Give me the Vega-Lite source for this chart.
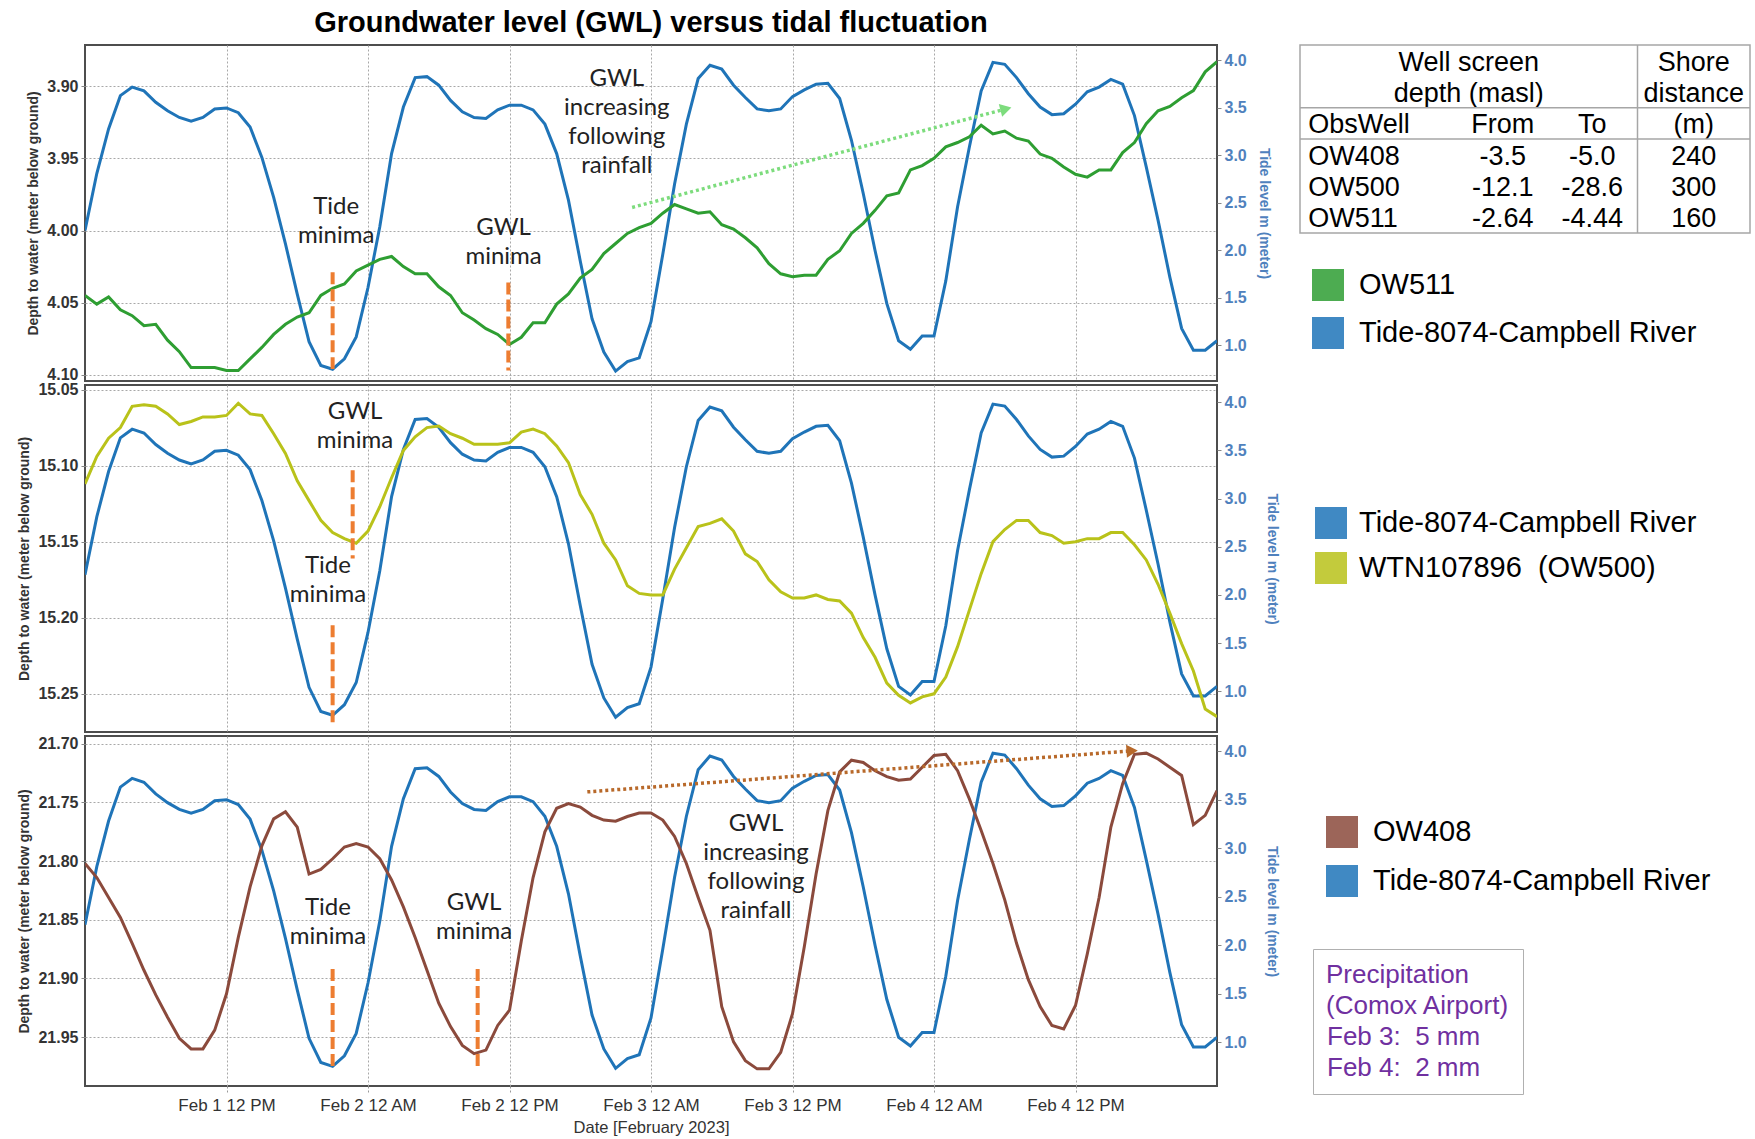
{
  "$schema": "https://vega.github.io/schema/vega-lite/v6.json",
  "padding": {"left": 16, "top": 8, "right": 2, "bottom": 2},
  "background": "white",
  "config": {
    "font": "Liberation Sans",
    "view": {"stroke": "#4d4d4d", "strokeWidth": 2},
    "axis": {"gridColor": "#a8a8a8", "gridDash": [2, 2], "gridWidth": 1}
  },
  "datasets": {
    "tide": [
      {"t":"2023-02-01T00:00","v":2.21},{"t":"2023-02-01T01:00","v":2.81},{"t":"2023-02-01T02:00","v":3.28},{"t":"2023-02-01T03:00","v":3.63},{"t":"2023-02-01T04:00","v":3.72},{"t":"2023-02-01T05:00","v":3.68},{"t":"2023-02-01T06:00","v":3.56},{"t":"2023-02-01T07:00","v":3.47},{"t":"2023-02-01T08:00","v":3.40},{"t":"2023-02-01T09:00","v":3.36},{"t":"2023-02-01T10:00","v":3.40},{"t":"2023-02-01T11:00","v":3.49},{"t":"2023-02-01T12:00","v":3.50},{"t":"2023-02-01T13:00","v":3.45},{"t":"2023-02-01T14:00","v":3.30},{"t":"2023-02-01T15:00","v":2.98},{"t":"2023-02-01T16:00","v":2.56},{"t":"2023-02-01T17:00","v":2.07},{"t":"2023-02-01T18:00","v":1.54},{"t":"2023-02-01T19:00","v":1.04},{"t":"2023-02-01T20:00","v":0.79},{"t":"2023-02-01T21:00","v":0.75},{"t":"2023-02-01T22:00","v":0.86},{"t":"2023-02-01T23:00","v":1.09},
      {"t":"2023-02-02T00:00","v":1.61},{"t":"2023-02-02T01:00","v":2.25},{"t":"2023-02-02T02:00","v":3.02},{"t":"2023-02-02T03:00","v":3.51},{"t":"2023-02-02T04:00","v":3.82},{"t":"2023-02-02T05:00","v":3.83},{"t":"2023-02-02T06:00","v":3.74},{"t":"2023-02-02T07:00","v":3.58},{"t":"2023-02-02T08:00","v":3.46},{"t":"2023-02-02T09:00","v":3.40},{"t":"2023-02-02T10:00","v":3.39},{"t":"2023-02-02T11:00","v":3.48},{"t":"2023-02-02T12:00","v":3.53},{"t":"2023-02-02T13:00","v":3.53},{"t":"2023-02-02T14:00","v":3.48},{"t":"2023-02-02T15:00","v":3.33},{"t":"2023-02-02T16:00","v":3.02},{"t":"2023-02-02T17:00","v":2.53},{"t":"2023-02-02T18:00","v":1.89},{"t":"2023-02-02T19:00","v":1.28},{"t":"2023-02-02T20:00","v":0.93},{"t":"2023-02-02T21:00","v":0.73},{"t":"2023-02-02T22:00","v":0.83},{"t":"2023-02-02T23:00","v":0.87},
      {"t":"2023-02-03T00:00","v":1.25},{"t":"2023-02-03T01:00","v":1.96},{"t":"2023-02-03T02:00","v":2.70},{"t":"2023-02-03T03:00","v":3.33},{"t":"2023-02-03T04:00","v":3.81},{"t":"2023-02-03T05:00","v":3.95},{"t":"2023-02-03T06:00","v":3.91},{"t":"2023-02-03T07:00","v":3.74},{"t":"2023-02-03T08:00","v":3.61},{"t":"2023-02-03T09:00","v":3.49},{"t":"2023-02-03T10:00","v":3.47},{"t":"2023-02-03T11:00","v":3.49},{"t":"2023-02-03T12:00","v":3.62},{"t":"2023-02-03T13:00","v":3.69},{"t":"2023-02-03T14:00","v":3.75},{"t":"2023-02-03T15:00","v":3.76},{"t":"2023-02-03T16:00","v":3.60},{"t":"2023-02-03T17:00","v":3.16},{"t":"2023-02-03T18:00","v":2.60},{"t":"2023-02-03T19:00","v":2.00},{"t":"2023-02-03T20:00","v":1.44},{"t":"2023-02-03T21:00","v":1.05},{"t":"2023-02-03T22:00","v":0.96},{"t":"2023-02-03T23:00","v":1.10},
      {"t":"2023-02-04T00:00","v":1.10},{"t":"2023-02-04T01:00","v":1.68},{"t":"2023-02-04T02:00","v":2.46},{"t":"2023-02-04T03:00","v":3.09},{"t":"2023-02-04T04:00","v":3.68},{"t":"2023-02-04T05:00","v":3.98},{"t":"2023-02-04T06:00","v":3.96},{"t":"2023-02-04T07:00","v":3.82},{"t":"2023-02-04T08:00","v":3.65},{"t":"2023-02-04T09:00","v":3.51},{"t":"2023-02-04T10:00","v":3.43},{"t":"2023-02-04T11:00","v":3.44},{"t":"2023-02-04T12:00","v":3.54},{"t":"2023-02-04T13:00","v":3.67},{"t":"2023-02-04T14:00","v":3.72},{"t":"2023-02-04T15:00","v":3.80},{"t":"2023-02-04T16:00","v":3.75},{"t":"2023-02-04T17:00","v":3.42},{"t":"2023-02-04T18:00","v":2.88},{"t":"2023-02-04T19:00","v":2.32},{"t":"2023-02-04T20:00","v":1.72},{"t":"2023-02-04T21:00","v":1.18},{"t":"2023-02-04T22:00","v":0.95},{"t":"2023-02-04T23:00","v":0.95},
      {"t":"2023-02-05T00:00","v":1.05}
    ],
    "ow511": [
      {"t":"2023-02-01T00:00","v":4.045},{"t":"2023-02-01T01:00","v":4.051},{"t":"2023-02-01T02:00","v":4.046},{"t":"2023-02-01T03:00","v":4.055},{"t":"2023-02-01T04:00","v":4.059},{"t":"2023-02-01T05:00","v":4.066},{"t":"2023-02-01T06:00","v":4.065},{"t":"2023-02-01T07:00","v":4.076},{"t":"2023-02-01T08:00","v":4.084},{"t":"2023-02-01T09:00","v":4.095},{"t":"2023-02-01T10:00","v":4.095},{"t":"2023-02-01T11:00","v":4.095},{"t":"2023-02-01T12:00","v":4.097},{"t":"2023-02-01T13:00","v":4.097},{"t":"2023-02-01T14:00","v":4.089},{"t":"2023-02-01T15:00","v":4.081},{"t":"2023-02-01T16:00","v":4.072},{"t":"2023-02-01T17:00","v":4.065},{"t":"2023-02-01T18:00","v":4.060},{"t":"2023-02-01T19:00","v":4.057},{"t":"2023-02-01T20:00","v":4.045},{"t":"2023-02-01T21:00","v":4.040},{"t":"2023-02-01T22:00","v":4.037},{"t":"2023-02-01T23:00","v":4.028},
      {"t":"2023-02-02T00:00","v":4.024},{"t":"2023-02-02T01:00","v":4.020},{"t":"2023-02-02T02:00","v":4.018},{"t":"2023-02-02T03:00","v":4.025},{"t":"2023-02-02T04:00","v":4.030},{"t":"2023-02-02T05:00","v":4.030},{"t":"2023-02-02T06:00","v":4.039},{"t":"2023-02-02T07:00","v":4.045},{"t":"2023-02-02T08:00","v":4.057},{"t":"2023-02-02T09:00","v":4.062},{"t":"2023-02-02T10:00","v":4.068},{"t":"2023-02-02T11:00","v":4.072},{"t":"2023-02-02T12:00","v":4.079},{"t":"2023-02-02T13:00","v":4.074},{"t":"2023-02-02T14:00","v":4.064},{"t":"2023-02-02T15:00","v":4.064},{"t":"2023-02-02T16:00","v":4.051},{"t":"2023-02-02T17:00","v":4.044},{"t":"2023-02-02T18:00","v":4.033},{"t":"2023-02-02T19:00","v":4.027},{"t":"2023-02-02T20:00","v":4.016},{"t":"2023-02-02T21:00","v":4.009},{"t":"2023-02-02T22:00","v":4.002},{"t":"2023-02-02T23:00","v":3.998},
      {"t":"2023-02-03T00:00","v":3.995},{"t":"2023-02-03T01:00","v":3.988},{"t":"2023-02-03T02:00","v":3.982},{"t":"2023-02-03T03:00","v":3.985},{"t":"2023-02-03T04:00","v":3.988},{"t":"2023-02-03T05:00","v":3.987},{"t":"2023-02-03T06:00","v":3.996},{"t":"2023-02-03T07:00","v":3.999},{"t":"2023-02-03T08:00","v":4.005},{"t":"2023-02-03T09:00","v":4.012},{"t":"2023-02-03T10:00","v":4.023},{"t":"2023-02-03T11:00","v":4.030},{"t":"2023-02-03T12:00","v":4.032},{"t":"2023-02-03T13:00","v":4.031},{"t":"2023-02-03T14:00","v":4.031},{"t":"2023-02-03T15:00","v":4.020},{"t":"2023-02-03T16:00","v":4.014},{"t":"2023-02-03T17:00","v":4.002},{"t":"2023-02-03T18:00","v":3.995},{"t":"2023-02-03T19:00","v":3.986},{"t":"2023-02-03T20:00","v":3.976},{"t":"2023-02-03T21:00","v":3.974},{"t":"2023-02-03T22:00","v":3.958},{"t":"2023-02-03T23:00","v":3.955},
      {"t":"2023-02-04T00:00","v":3.950},{"t":"2023-02-04T01:00","v":3.942},{"t":"2023-02-04T02:00","v":3.939},{"t":"2023-02-04T03:00","v":3.935},{"t":"2023-02-04T04:00","v":3.927},{"t":"2023-02-04T05:00","v":3.933},{"t":"2023-02-04T06:00","v":3.931},{"t":"2023-02-04T07:00","v":3.936},{"t":"2023-02-04T08:00","v":3.938},{"t":"2023-02-04T09:00","v":3.947},{"t":"2023-02-04T10:00","v":3.950},{"t":"2023-02-04T11:00","v":3.956},{"t":"2023-02-04T12:00","v":3.961},{"t":"2023-02-04T13:00","v":3.963},{"t":"2023-02-04T14:00","v":3.958},{"t":"2023-02-04T15:00","v":3.958},{"t":"2023-02-04T16:00","v":3.946},{"t":"2023-02-04T17:00","v":3.939},{"t":"2023-02-04T18:00","v":3.926},{"t":"2023-02-04T19:00","v":3.917},{"t":"2023-02-04T20:00","v":3.914},{"t":"2023-02-04T21:00","v":3.908},{"t":"2023-02-04T22:00","v":3.903},{"t":"2023-02-04T23:00","v":3.890},
      {"t":"2023-02-05T00:00","v":3.883}
    ],
    "ow500": [
      {"t":"2023-02-01T00:00","v":15.112},{"t":"2023-02-01T01:00","v":15.094},{"t":"2023-02-01T02:00","v":15.082},{"t":"2023-02-01T03:00","v":15.075},{"t":"2023-02-01T04:00","v":15.061},{"t":"2023-02-01T05:00","v":15.060},{"t":"2023-02-01T06:00","v":15.061},{"t":"2023-02-01T07:00","v":15.066},{"t":"2023-02-01T08:00","v":15.073},{"t":"2023-02-01T09:00","v":15.071},{"t":"2023-02-01T10:00","v":15.068},{"t":"2023-02-01T11:00","v":15.068},{"t":"2023-02-01T12:00","v":15.067},{"t":"2023-02-01T13:00","v":15.059},{"t":"2023-02-01T14:00","v":15.066},{"t":"2023-02-01T15:00","v":15.067},{"t":"2023-02-01T16:00","v":15.079},{"t":"2023-02-01T17:00","v":15.092},{"t":"2023-02-01T18:00","v":15.110},{"t":"2023-02-01T19:00","v":15.123},{"t":"2023-02-01T20:00","v":15.136},{"t":"2023-02-01T21:00","v":15.144},{"t":"2023-02-01T22:00","v":15.148},{"t":"2023-02-01T23:00","v":15.151},
      {"t":"2023-02-02T00:00","v":15.143},{"t":"2023-02-02T01:00","v":15.127},{"t":"2023-02-02T02:00","v":15.108},{"t":"2023-02-02T03:00","v":15.090},{"t":"2023-02-02T04:00","v":15.081},{"t":"2023-02-02T05:00","v":15.075},{"t":"2023-02-02T06:00","v":15.074},{"t":"2023-02-02T07:00","v":15.079},{"t":"2023-02-02T08:00","v":15.082},{"t":"2023-02-02T09:00","v":15.086},{"t":"2023-02-02T10:00","v":15.086},{"t":"2023-02-02T11:00","v":15.086},{"t":"2023-02-02T12:00","v":15.085},{"t":"2023-02-02T13:00","v":15.078},{"t":"2023-02-02T14:00","v":15.076},{"t":"2023-02-02T15:00","v":15.079},{"t":"2023-02-02T16:00","v":15.087},{"t":"2023-02-02T17:00","v":15.098},{"t":"2023-02-02T18:00","v":15.119},{"t":"2023-02-02T19:00","v":15.132},{"t":"2023-02-02T20:00","v":15.151},{"t":"2023-02-02T21:00","v":15.162},{"t":"2023-02-02T22:00","v":15.179},{"t":"2023-02-02T23:00","v":15.184},
      {"t":"2023-02-03T00:00","v":15.185},{"t":"2023-02-03T01:00","v":15.185},{"t":"2023-02-03T02:00","v":15.168},{"t":"2023-02-03T03:00","v":15.154},{"t":"2023-02-03T04:00","v":15.140},{"t":"2023-02-03T05:00","v":15.138},{"t":"2023-02-03T06:00","v":15.135},{"t":"2023-02-03T07:00","v":15.143},{"t":"2023-02-03T08:00","v":15.158},{"t":"2023-02-03T09:00","v":15.163},{"t":"2023-02-03T10:00","v":15.175},{"t":"2023-02-03T11:00","v":15.183},{"t":"2023-02-03T12:00","v":15.187},{"t":"2023-02-03T13:00","v":15.187},{"t":"2023-02-03T14:00","v":15.185},{"t":"2023-02-03T15:00","v":15.188},{"t":"2023-02-03T16:00","v":15.189},{"t":"2023-02-03T17:00","v":15.197},{"t":"2023-02-03T18:00","v":15.213},{"t":"2023-02-03T19:00","v":15.226},{"t":"2023-02-03T20:00","v":15.243},{"t":"2023-02-03T21:00","v":15.251},{"t":"2023-02-03T22:00","v":15.256},{"t":"2023-02-03T23:00","v":15.252},
      {"t":"2023-02-04T00:00","v":15.250},{"t":"2023-02-04T01:00","v":15.239},{"t":"2023-02-04T02:00","v":15.219},{"t":"2023-02-04T03:00","v":15.195},{"t":"2023-02-04T04:00","v":15.171},{"t":"2023-02-04T05:00","v":15.150},{"t":"2023-02-04T06:00","v":15.142},{"t":"2023-02-04T07:00","v":15.136},{"t":"2023-02-04T08:00","v":15.136},{"t":"2023-02-04T09:00","v":15.144},{"t":"2023-02-04T10:00","v":15.146},{"t":"2023-02-04T11:00","v":15.151},{"t":"2023-02-04T12:00","v":15.150},{"t":"2023-02-04T13:00","v":15.148},{"t":"2023-02-04T14:00","v":15.148},{"t":"2023-02-04T15:00","v":15.144},{"t":"2023-02-04T16:00","v":15.144},{"t":"2023-02-04T17:00","v":15.152},{"t":"2023-02-04T18:00","v":15.162},{"t":"2023-02-04T19:00","v":15.178},{"t":"2023-02-04T20:00","v":15.197},{"t":"2023-02-04T21:00","v":15.217},{"t":"2023-02-04T22:00","v":15.235},{"t":"2023-02-04T23:00","v":15.260},
      {"t":"2023-02-05T00:00","v":15.265}
    ],
    "ow408": [
      {"t":"2023-02-01T00:00","v":21.802},{"t":"2023-02-01T01:00","v":21.814},{"t":"2023-02-01T02:00","v":21.831},{"t":"2023-02-01T03:00","v":21.848},{"t":"2023-02-01T04:00","v":21.870},{"t":"2023-02-01T05:00","v":21.893},{"t":"2023-02-01T06:00","v":21.914},{"t":"2023-02-01T07:00","v":21.933},{"t":"2023-02-01T08:00","v":21.951},{"t":"2023-02-01T09:00","v":21.960},{"t":"2023-02-01T10:00","v":21.960},{"t":"2023-02-01T11:00","v":21.944},{"t":"2023-02-01T12:00","v":21.913},{"t":"2023-02-01T13:00","v":21.865},{"t":"2023-02-01T14:00","v":21.822},{"t":"2023-02-01T15:00","v":21.787},{"t":"2023-02-01T16:00","v":21.764},{"t":"2023-02-01T17:00","v":21.758},{"t":"2023-02-01T18:00","v":21.771},{"t":"2023-02-01T19:00","v":21.811},{"t":"2023-02-01T20:00","v":21.807},{"t":"2023-02-01T21:00","v":21.798},{"t":"2023-02-01T22:00","v":21.788},{"t":"2023-02-01T23:00","v":21.785},
      {"t":"2023-02-02T00:00","v":21.788},{"t":"2023-02-02T01:00","v":21.798},{"t":"2023-02-02T02:00","v":21.816},{"t":"2023-02-02T03:00","v":21.839},{"t":"2023-02-02T04:00","v":21.865},{"t":"2023-02-02T05:00","v":21.893},{"t":"2023-02-02T06:00","v":21.921},{"t":"2023-02-02T07:00","v":21.941},{"t":"2023-02-02T08:00","v":21.957},{"t":"2023-02-02T09:00","v":21.964},{"t":"2023-02-02T10:00","v":21.961},{"t":"2023-02-02T11:00","v":21.940},{"t":"2023-02-02T12:00","v":21.927},{"t":"2023-02-02T13:00","v":21.868},{"t":"2023-02-02T14:00","v":21.814},{"t":"2023-02-02T15:00","v":21.775},{"t":"2023-02-02T16:00","v":21.755},{"t":"2023-02-02T17:00","v":21.751},{"t":"2023-02-02T18:00","v":21.754},{"t":"2023-02-02T19:00","v":21.761},{"t":"2023-02-02T20:00","v":21.765},{"t":"2023-02-02T21:00","v":21.766},{"t":"2023-02-02T22:00","v":21.762},{"t":"2023-02-02T23:00","v":21.759},
      {"t":"2023-02-03T00:00","v":21.759},{"t":"2023-02-03T01:00","v":21.765},{"t":"2023-02-03T02:00","v":21.779},{"t":"2023-02-03T03:00","v":21.802},{"t":"2023-02-03T04:00","v":21.831},{"t":"2023-02-03T05:00","v":21.859},{"t":"2023-02-03T06:00","v":21.924},{"t":"2023-02-03T07:00","v":21.954},{"t":"2023-02-03T08:00","v":21.970},{"t":"2023-02-03T09:00","v":21.977},{"t":"2023-02-03T10:00","v":21.977},{"t":"2023-02-03T11:00","v":21.963},{"t":"2023-02-03T12:00","v":21.930},{"t":"2023-02-03T13:00","v":21.873},{"t":"2023-02-03T14:00","v":21.811},{"t":"2023-02-03T15:00","v":21.757},{"t":"2023-02-03T16:00","v":21.724},{"t":"2023-02-03T17:00","v":21.714},{"t":"2023-02-03T18:00","v":21.716},{"t":"2023-02-03T19:00","v":21.723},{"t":"2023-02-03T20:00","v":21.728},{"t":"2023-02-03T21:00","v":21.731},{"t":"2023-02-03T22:00","v":21.730},{"t":"2023-02-03T23:00","v":21.720},
      {"t":"2023-02-04T00:00","v":21.710},{"t":"2023-02-04T01:00","v":21.709},{"t":"2023-02-04T02:00","v":21.723},{"t":"2023-02-04T03:00","v":21.747},{"t":"2023-02-04T04:00","v":21.774},{"t":"2023-02-04T05:00","v":21.802},{"t":"2023-02-04T06:00","v":21.833},{"t":"2023-02-04T07:00","v":21.870},{"t":"2023-02-04T08:00","v":21.901},{"t":"2023-02-04T09:00","v":21.924},{"t":"2023-02-04T10:00","v":21.940},{"t":"2023-02-04T11:00","v":21.943},{"t":"2023-02-04T12:00","v":21.923},{"t":"2023-02-04T13:00","v":21.879},{"t":"2023-02-04T14:00","v":21.831},{"t":"2023-02-04T15:00","v":21.771},{"t":"2023-02-04T16:00","v":21.734},{"t":"2023-02-04T17:00","v":21.709},{"t":"2023-02-04T18:00","v":21.708},{"t":"2023-02-04T19:00","v":21.713},{"t":"2023-02-04T20:00","v":21.720},{"t":"2023-02-04T21:00","v":21.727},{"t":"2023-02-04T22:00","v":21.769},{"t":"2023-02-04T23:00","v":21.761},
      {"t":"2023-02-05T00:00","v":21.740}
    ],
    "wells": [
      {"row":"h1","col":"From","text":"Well screen"},
      {"row":"h2","col":"From","text":"depth (masl)"},
      {"row":"h1","col":"Shore","text":"Shore"},
      {"row":"h2","col":"Shore","text":"distance"},
      {"row":"h3","col":"ObsWell","text":"ObsWell"},
      {"row":"h3","col":"From","text":"From"},
      {"row":"h3","col":"To","text":"To"},
      {"row":"h3","col":"Shore","text":"(m)"},
      {"row":"OW408","col":"ObsWell","text":"OW408"},{"row":"OW408","col":"From","text":"-3.5"},{"row":"OW408","col":"To","text":"-5.0"},{"row":"OW408","col":"Shore","text":"240"},
      {"row":"OW500","col":"ObsWell","text":"OW500"},{"row":"OW500","col":"From","text":"-12.1"},{"row":"OW500","col":"To","text":"-28.6"},{"row":"OW500","col":"Shore","text":"300"},
      {"row":"OW511","col":"ObsWell","text":"OW511"},{"row":"OW511","col":"From","text":"-2.64"},{"row":"OW511","col":"To","text":"-4.44"},{"row":"OW511","col":"Shore","text":"160"}
    ]
  },
  "columns": 2,
  "bounds": "flush",
  "spacing": {"row": 4, "column": 83},
  "resolve": {"scale": {"color": "independent", "shape": "independent"}},
  "concat": [
    {
      "width": 1132, "height": 336,
      "title": {"text": "Groundwater level (GWL) versus tidal fluctuation", "fontSize": 29, "fontWeight": "bold", "font": "Liberation Sans", "color": "#000", "anchor": "middle", "frame": "group", "offset": 7},
      "encoding": {"x": {"field": "t", "type": "temporal",
        "scale": {"domain": [{"year":2023,"month":2,"date":1,"hours":0},{"year":2023,"month":2,"date":5,"hours":0}]},
        "axis": {"title": null, "labels": false, "ticks": false, "domain": false, "grid": true,
          "values": [{"year":2023,"month":2,"date":1,"hours":12},{"year":2023,"month":2,"date":2,"hours":0},{"year":2023,"month":2,"date":2,"hours":12},{"year":2023,"month":2,"date":3,"hours":0},{"year":2023,"month":2,"date":3,"hours":12},{"year":2023,"month":2,"date":4,"hours":0},{"year":2023,"month":2,"date":4,"hours":12}]}}},
      "layer": [
        {"data": {"name": "tide"}, "mark": {"type": "line", "clip": true, "strokeWidth": 3, "color": "#1f74b8"},
         "encoding": {
           "y": {"field": "v", "type": "quantitative", "scale": {"domain": [0.626, 4.163], "nice": false, "zero": false},
             "axis": {"orient": "right", "title": "Tide level m (meter)", "values": [1,1.5,2,2.5,3,3.5,4], "format": ".1f", "grid": false, "domain": false, "ticks": true, "tickSize": 4, "tickColor": "#888", "labelFontSize": 16, "labelFontWeight": "bold", "labelColor": "#4f81bd", "labelPadding": 3, "titleFontSize": 14, "titleFontWeight": "bold", "titleColor": "#4f81bd", "titlePadding": 10}}
         }},
        {"layer": [
          {"data": {"name": "ow511"}, "mark": {"type": "line", "clip": true, "strokeWidth": 3, "color": "#2e9e32"},
           "encoding": {
             "y": {"field": "v", "type": "quantitative", "scale": {"domain": [3.8714, 4.1043], "reverse": true, "nice": false, "zero": false},
               "axis": {"orient": "left", "title": "Depth to water (meter below ground)", "values": [3.9,3.95,4,4.05,4.1], "format": ".2f", "grid": true, "domain": false, "ticks": true, "tickSize": 4, "tickColor": "#888", "labelFontSize": 16, "labelFontWeight": "bold", "labelColor": "#333", "labelPadding": 3, "titleFontSize": 14, "titleFontWeight": "bold", "titleColor": "#333", "titlePadding": 6}}
           }},
          {"data": {"values": [{"t":"2023-02-01T21:00","v":4.029,"v2":4.096},{"t":"2023-02-02T11:54","v":4.036,"v2":4.097}]},
           "mark": {"type": "rule", "color": "#ed7d31", "strokeWidth": 4, "strokeDash": [12, 5]},
           "encoding": {"y": {"field": "v", "type": "quantitative"}, "y2": {"field": "v2"}}},
          {"data": {"values": [{"t":"2023-02-01T21:18","v":3.984,"text":"Tide\nminima"},{"t":"2023-02-02T11:30","v":3.998,"text":"GWL\nminima"},{"t":"2023-02-02T21:06","v":3.895,"text":"GWL\nincreasing\nfollowing\nrainfall"}]},
           "mark": {"type": "text", "font": "Lato", "fontSize": 24, "lineHeight": 29, "lineBreak": "\n", "align": "center", "baseline": "middle", "color": "#222"},
           "encoding": {"y": {"field": "v", "type": "quantitative"}, "text": {"field": "text"}}},
          {"data": {"values": [{"t":"2023-02-02T22:24","v":3.984,"end":false},{"t":"2023-02-04T06:06","v":3.9157,"end":true}]},
           "mark": {"type": "line", "color": "#7ddc7d", "strokeWidth": 3.5, "strokeDash": [3, 3]},
           "encoding": {"y": {"field": "v", "type": "quantitative"}}},
          {"data": {"values": [{"t":"2023-02-02T22:24","v":3.984,"end":false},{"t":"2023-02-04T06:06","v":3.9157,"end":true}]},
           "transform": [{"filter": "datum.end"}],
           "mark": {"type": "point", "shape": "triangle-right", "filled": true, "size": 170, "color": "#7ddc7d", "opacity": 1, "angle": 345},
           "encoding": {"y": {"field": "v", "type": "quantitative"}}}
        ]},
        {"data": {"values": [{"series": "OW511"}, {"series": "Tide-8074-Campbell River"}]},
         "mark": {"type": "point", "shape": "square", "filled": true, "opacity": 0},
         "encoding": {"color": {"field": "series", "type": "nominal",
           "scale": {"domain": ["OW511", "Tide-8074-Campbell River"], "range": ["#2e9e32", "#1f74b8"]},
           "legend": {"orient": "none", "legendX": 1227, "legendY": 224, "title": null, "symbolType": "square", "symbolSize": 1024, "symbolStrokeWidth": 0, "symbolOpacity": 0.85, "labelFontSize": 29, "labelColor": "#000", "labelFont": "Liberation Sans", "labelOffset": 15, "rowPadding": 16, "padding": 0, "labelLimit": 600}}}}
      ],
      "resolve": {"scale": {"y": "independent"}}
    },
    {
      "width": 450, "height": 188,
      "view": {"stroke": "#a6a6a6", "strokeWidth": 1.5},
      "layer": [
        {"data": {"name": "wells"}, "transform": [{"filter": "datum.col == 'ObsWell'"}],
         "mark": {"type": "text", "align": "left", "dx": -48, "dy": 2, "fontSize": 27, "color": "#000"},
         "encoding": {
           "x": {"field": "col", "type": "nominal", "scale": {"domain": ["ObsWell","From","To","Shore"], "paddingInner": 0, "paddingOuter": 0}, "axis": null},
           "y": {"field": "row", "type": "nominal", "scale": {"domain": ["h1","h2","h3","OW408","OW500","OW511"], "paddingInner": 0, "paddingOuter": 0}, "axis": null},
           "text": {"field": "text", "type": "nominal"}}},
        {"data": {"name": "wells"}, "transform": [{"filter": "datum.col == 'From' && datum.row != 'h1' && datum.row != 'h2'"}],
         "mark": {"type": "text", "dx": 34, "dy": 2, "fontSize": 27, "color": "#000"},
         "encoding": {"x": {"field": "col", "type": "nominal", "axis": null}, "y": {"field": "row", "type": "nominal", "axis": null}, "text": {"field": "text", "type": "nominal"}}},
        {"data": {"name": "wells"}, "transform": [{"filter": "datum.col == 'To'"}],
         "mark": {"type": "text", "dx": 11, "dy": 2, "fontSize": 27, "color": "#000"},
         "encoding": {"x": {"field": "col", "type": "nominal", "axis": null}, "y": {"field": "row", "type": "nominal", "axis": null}, "text": {"field": "text", "type": "nominal"}}},
        {"data": {"name": "wells"}, "transform": [{"filter": "datum.col == 'Shore' || datum.row == 'h1' || datum.row == 'h2'"}],
         "mark": {"type": "text", "dy": 2, "fontSize": 27, "color": "#000"},
         "encoding": {"x": {"field": "col", "type": "nominal", "axis": null}, "y": {"field": "row", "type": "nominal", "axis": null}, "text": {"field": "text", "type": "nominal"}}},
        {"data": {"values": [{"row": "h3"}, {"row": "OW408"}]},
         "mark": {"type": "rule", "color": "#a6a6a6", "strokeWidth": 1.5},
         "encoding": {"y": {"field": "row", "type": "nominal", "bandPosition": 0, "axis": null}}},
        {"data": {"values": [{"col": "Shore"}]},
         "mark": {"type": "rule", "color": "#a6a6a6", "strokeWidth": 1.5},
         "encoding": {"x": {"field": "col", "type": "nominal", "bandPosition": 0, "axis": null}}}
      ]
    },
    {
      "width": 1132, "height": 347,
      "encoding": {"x": {"field": "t", "type": "temporal",
        "scale": {"domain": [{"year":2023,"month":2,"date":1,"hours":0},{"year":2023,"month":2,"date":5,"hours":0}]},
        "axis": {"title": null, "labels": false, "ticks": false, "domain": false, "grid": true,
          "values": [{"year":2023,"month":2,"date":1,"hours":12},{"year":2023,"month":2,"date":2,"hours":0},{"year":2023,"month":2,"date":2,"hours":12},{"year":2023,"month":2,"date":3,"hours":0},{"year":2023,"month":2,"date":3,"hours":12},{"year":2023,"month":2,"date":4,"hours":0},{"year":2023,"month":2,"date":4,"hours":12}]}}},
      "layer": [
        {"data": {"name": "tide"}, "mark": {"type": "line", "clip": true, "strokeWidth": 3, "color": "#1f74b8"},
         "encoding": {
           "y": {"field": "v", "type": "quantitative", "scale": {"domain": [0.5765, 4.1785], "nice": false, "zero": false},
             "axis": {"orient": "right", "title": "Tide level m (meter)", "values": [1,1.5,2,2.5,3,3.5,4], "format": ".1f", "grid": false, "domain": false, "ticks": true, "tickSize": 4, "tickColor": "#888", "labelFontSize": 16, "labelFontWeight": "bold", "labelColor": "#4f81bd", "labelPadding": 3, "titleFontSize": 14, "titleFontWeight": "bold", "titleColor": "#4f81bd", "titlePadding": 18}}
         }},
        {"layer": [
          {"data": {"name": "ow500"}, "mark": {"type": "line", "clip": true, "strokeWidth": 3, "color": "#b9c21a"},
           "encoding": {
             "y": {"field": "v", "type": "quantitative", "scale": {"domain": [15.047, 15.2751], "reverse": true, "nice": false, "zero": false},
               "axis": {"orient": "left", "title": "Depth to water (meter below ground)", "values": [15.05,15.1,15.15,15.2,15.25], "format": ".2f", "grid": true, "domain": false, "ticks": true, "tickSize": 4, "tickColor": "#888", "labelFontSize": 16, "labelFontWeight": "bold", "labelColor": "#333", "labelPadding": 3, "titleFontSize": 14, "titleFontWeight": "bold", "titleColor": "#333", "titlePadding": 6}}
           }},
          {"data": {"values": [{"t":"2023-02-01T22:42","v":15.103,"v2":15.161},{"t":"2023-02-01T21:00","v":15.205,"v2":15.269}]},
           "mark": {"type": "rule", "color": "#ed7d31", "strokeWidth": 4, "strokeDash": [12, 5]},
           "encoding": {"y": {"field": "v", "type": "quantitative"}, "y2": {"field": "v2"}}},
          {"data": {"values": [{"t":"2023-02-01T22:54","v":15.065,"text":"GWL\nminima"},{"t":"2023-02-01T20:36","v":15.166,"text":"Tide\nminima"}]},
           "mark": {"type": "text", "font": "Lato", "fontSize": 24, "lineHeight": 29, "lineBreak": "\n", "align": "center", "baseline": "middle", "color": "#222"},
           "encoding": {"y": {"field": "v", "type": "quantitative"}, "text": {"field": "text"}}}
        ]},
        {"data": {"values": [{"series": "Tide-8074-Campbell River"}, {"series": "WTN107896\u00a0 (OW500)"}]},
         "mark": {"type": "point", "shape": "square", "filled": true, "opacity": 0},
         "encoding": {"color": {"field": "series", "type": "nominal",
           "scale": {"domain": ["Tide-8074-Campbell River", "WTN107896\u00a0 (OW500)"], "range": ["#1f74b8", "#b9c21a"]},
           "legend": {"orient": "none", "legendX": 1230, "legendY": 122, "title": null, "symbolType": "square", "symbolSize": 1024, "symbolStrokeWidth": 0, "symbolOpacity": 0.85, "labelFontSize": 29, "labelColor": "#000", "labelFont": "Liberation Sans", "labelOffset": 12, "rowPadding": 13, "padding": 0, "labelLimit": 600}}}}
      ],
      "resolve": {"scale": {"y": "independent"}}
    },
    {"width": 1, "height": 1, "data": {"values": [{"t": "none"}]}, "mark": {"type": "point", "opacity": 0}, "view": {"stroke": "transparent"}},
    {
      "width": 1132, "height": 350,
      "encoding": {"x": {"field": "t", "type": "temporal",
        "scale": {"domain": [{"year":2023,"month":2,"date":1,"hours":0},{"year":2023,"month":2,"date":5,"hours":0}]},
        "axis": {"title": "Date [February 2023]", "labels": true, "format": "%b %-d %-I %p", "ticks": true, "tickSize": 8, "tickColor": "#999", "tickDash": [2, 2], "domain": false, "grid": true, "labelFontSize": 17, "labelColor": "#333", "labelPadding": 3, "titleFontSize": 16.5, "titleFontWeight": "normal", "titleColor": "#333", "titlePadding": 6,
          "values": [{"year":2023,"month":2,"date":1,"hours":12},{"year":2023,"month":2,"date":2,"hours":0},{"year":2023,"month":2,"date":2,"hours":12},{"year":2023,"month":2,"date":3,"hours":0},{"year":2023,"month":2,"date":3,"hours":12},{"year":2023,"month":2,"date":4,"hours":0},{"year":2023,"month":2,"date":4,"hours":12}]}}},
      "layer": [
        {"data": {"name": "tide"}, "mark": {"type": "line", "clip": true, "strokeWidth": 3, "color": "#1f74b8"},
         "encoding": {
           "y": {"field": "v", "type": "quantitative", "scale": {"domain": [0.548, 4.157], "nice": false, "zero": false},
             "axis": {"orient": "right", "title": "Tide level m (meter)", "values": [1,1.5,2,2.5,3,3.5,4], "format": ".1f", "grid": false, "domain": false, "ticks": true, "tickSize": 4, "tickColor": "#888", "labelFontSize": 16, "labelFontWeight": "bold", "labelColor": "#4f81bd", "labelPadding": 3, "titleFontSize": 14, "titleFontWeight": "bold", "titleColor": "#4f81bd", "titlePadding": 18}}
         }},
        {"layer": [
          {"data": {"name": "ow408"}, "mark": {"type": "line", "clip": true, "strokeWidth": 3, "color": "#8b4a3c"},
           "encoding": {
             "y": {"field": "v", "type": "quantitative", "scale": {"domain": [21.6934, 21.9916], "reverse": true, "nice": false, "zero": false},
               "axis": {"orient": "left", "title": "Depth to water (meter below ground)", "values": [21.7,21.75,21.8,21.85,21.9,21.95], "format": ".2f", "grid": true, "domain": false, "ticks": true, "tickSize": 4, "tickColor": "#888", "labelFontSize": 16, "labelFontWeight": "bold", "labelColor": "#333", "labelPadding": 3, "titleFontSize": 14, "titleFontWeight": "bold", "titleColor": "#333", "titlePadding": 6}}
           }},
          {"data": {"values": [{"t":"2023-02-01T21:00","v":21.892,"v2":21.975},{"t":"2023-02-02T09:18","v":21.892,"v2":21.975}]},
           "mark": {"type": "rule", "color": "#ed7d31", "strokeWidth": 4, "strokeDash": [12, 5]},
           "encoding": {"y": {"field": "v", "type": "quantitative"}, "y2": {"field": "v2"}}},
          {"data": {"values": [{"t":"2023-02-01T20:36","v":21.840,"text":"Tide\nminima"},{"t":"2023-02-02T09:00","v":21.836,"text":"GWL\nminima"},{"t":"2023-02-03T08:54","v":21.768,"text":"GWL\nincreasing\nfollowing\nrainfall"}]},
           "mark": {"type": "text", "font": "Lato", "fontSize": 24, "lineHeight": 29, "lineBreak": "\n", "align": "center", "baseline": "middle", "color": "#222"},
           "encoding": {"y": {"field": "v", "type": "quantitative"}, "text": {"field": "text"}}},
          {"data": {"values": [{"t":"2023-02-02T18:36","v":21.741,"end":false},{"t":"2023-02-04T16:48","v":21.706,"end":true}]},
           "mark": {"type": "line", "color": "#b8692a", "strokeWidth": 3.5, "strokeDash": [3, 3]},
           "encoding": {"y": {"field": "v", "type": "quantitative"}}},
          {"data": {"values": [{"t":"2023-02-02T18:36","v":21.741,"end":false},{"t":"2023-02-04T16:48","v":21.706,"end":true}]},
           "transform": [{"filter": "datum.end"}],
           "mark": {"type": "point", "shape": "triangle-right", "filled": true, "size": 170, "color": "#b8692a", "opacity": 1, "angle": 356},
           "encoding": {"y": {"field": "v", "type": "quantitative"}}},
          {"data": {"values": [{"t":"2023-02-03T12:00","label":"Feb 3:\u00a0 5 mm","mm":5},{"t":"2023-02-04T12:00","label":"Feb 4:\u00a0 2 mm","mm":2}]},
           "mark": {"type": "point", "opacity": 0},
           "encoding": {"shape": {"field": "label", "type": "nominal", "scale": {"domain": ["Feb 3:\u00a0 5 mm", "Feb 4:\u00a0 2 mm"]},
             "legend": {"orient": "none", "legendX": 1228, "legendY": 213, "title": ["Precipitation", "(Comox Airport)"], "titleFontSize": 26, "titleFontWeight": "normal", "titleColor": "#7030a0", "titleLineHeight": 31, "titlePadding": 5, "titleFont": "Liberation Sans", "titleLimit": 500, "labelFontSize": 26, "labelColor": "#7030a0", "labelFont": "Liberation Sans", "labelOffset": -25, "rowPadding": 5, "symbolSize": 0, "symbolOpacity": 0, "padding": 13, "strokeColor": "#b0b0b0", "labelLimit": 400}}}}
        ]},
        {"data": {"values": [{"series": "OW408"}, {"series": "Tide-8074-Campbell River"}]},
         "mark": {"type": "point", "shape": "square", "filled": true, "opacity": 0},
         "encoding": {"color": {"field": "series", "type": "nominal",
           "scale": {"domain": ["OW408", "Tide-8074-Campbell River"], "range": ["#8b4a3c", "#1f74b8"]},
           "legend": {"orient": "none", "legendX": 1241, "legendY": 80, "title": null, "symbolType": "square", "symbolSize": 1024, "symbolStrokeWidth": 0, "symbolOpacity": 0.85, "labelFontSize": 29, "labelColor": "#000", "labelFont": "Liberation Sans", "labelOffset": 15, "rowPadding": 17, "padding": 0, "labelLimit": 600}}}}
      ],
      "resolve": {"scale": {"y": "independent"}}
    },
    {"width": 1, "height": 1, "data": {"values": [{"t": "none"}]}, "mark": {"type": "point", "opacity": 0}, "view": {"stroke": "transparent"}}
  ]
}
